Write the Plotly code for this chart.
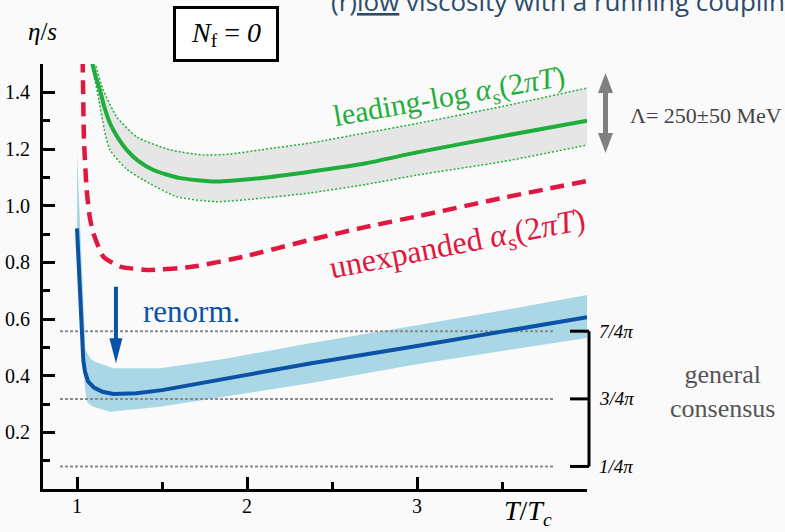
import plotly.graph_objects as go

# ---------------- data ----------------
# leading-log alpha_s(2 pi T): central curve and band edges
green_mid_x = [1.085, 1.09, 1.11, 1.135, 1.16, 1.194, 1.24, 1.292, 1.36, 1.449, 1.6, 1.82, 2.076, 2.37, 2.7, 3.0, 3.5, 4.0]
green_mid_y = [1.52, 1.503, 1.455, 1.408, 1.35, 1.291, 1.24, 1.197, 1.158, 1.126, 1.098, 1.085, 1.097, 1.12, 1.15, 1.188, 1.245, 1.30]
green_up_x = [1.104, 1.108, 1.155, 1.233, 1.351, 1.547, 1.743, 1.9, 2.08, 2.37, 2.7, 3.0, 3.5, 4.0]
green_up_y = [1.52, 1.50, 1.408, 1.314, 1.243, 1.197, 1.179, 1.182, 1.197, 1.221, 1.257, 1.29, 1.35, 1.415]
green_lo_x = [1.082, 1.087, 1.13, 1.16, 1.194, 1.29, 1.39, 1.586, 1.82, 2.08, 2.37, 2.7, 3.0, 3.5, 4.0]
green_lo_y = [1.52, 1.50, 1.37, 1.27, 1.197, 1.13, 1.091, 1.032, 1.014, 1.026, 1.045, 1.075, 1.108, 1.155, 1.214]

# unexpanded alpha_s(2 pi T)
red_x = [1.033, 1.035, 1.041, 1.057, 1.075, 1.096, 1.155, 1.253, 1.429, 1.684, 1.98, 2.37, 2.7, 3.0, 3.5, 4.0]
red_y = [1.52, 1.45, 1.232, 1.055, 0.96, 0.903, 0.82, 0.785, 0.773, 0.785, 0.82, 0.879, 0.925, 0.962, 1.027, 1.087]

# renormalized curve and its band
blue_x = [1.0, 1.037, 1.047, 1.065, 1.1, 1.15, 1.214, 1.35, 1.5, 1.88, 2.37, 3.0, 3.5, 4.0]
blue_y = [0.92, 0.455, 0.414, 0.38, 0.358, 0.343, 0.335, 0.338, 0.349, 0.39, 0.443, 0.505, 0.555, 0.606]
band_up_x = [1.0, 1.025, 1.05, 1.08, 1.106, 1.214, 1.49, 1.88, 2.37, 3.0, 3.5, 4.0]
band_up_y = [1.185, 0.84, 0.491, 0.46, 0.449, 0.426, 0.426, 0.461, 0.514, 0.578, 0.63, 0.685]
band_lo_x = [1.0, 1.02, 1.04, 1.05, 1.06, 1.096, 1.194, 1.49, 1.88, 2.37, 3.0, 3.5, 4.0]
band_lo_y = [0.92, 0.67, 0.40, 0.34, 0.305, 0.29, 0.273, 0.29, 0.326, 0.373, 0.44, 0.487, 0.533]

# "general consensus" levels
consensus_y = [0.0796, 0.318, 0.557]
consensus_labels = ["1/4π", "3/4π", "7/4π"]
consensus_x = [0.9, 3.8]

x_tick_vals = [1, 2, 3]
x_tick_text = ["1", "2", "3"]
x_minor_vals = [1.5, 2.5, 3.5, 4.0]
y_tick_vals = [0.2, 0.4, 0.6, 0.8, 1.0, 1.2, 1.4]
y_tick_text = ["0.2", "0.4", "0.6", "0.8", "1.0", "1.2", "1.4"]

renorm_arrow_x = 1.229
renorm_arrow_y = [0.719, 0.444]       # tail, tip
lambda_arrow_y = [1.468, 1.186]       # top tip, bottom tip

# ---------------- styling ----------------
W, H = 785, 532
ML, MR, MT, MB = 43, 198, 64, 43
SERIF = "Liberation Serif, Times New Roman, serif"
GREEN = "#1fae3c"
RED = "#e0173f"
BLUE = "#0a52a6"
LIGHTBLUE = "#aad7e6"
BG = "#fafafa"


def px(xp):
    return (xp - ML) / (W - ML - MR)


def py(yp):
    return (H - MB - yp) / (H - MT - MB)


fig = go.Figure()

# bands
fig.add_trace(go.Scatter(x=green_up_x + green_lo_x[::-1], y=green_up_y + green_lo_y[::-1],
                         fill="toself", fillcolor="#e6e6e6", line=dict(width=0),
                         mode="lines", hoverinfo="skip"))
fig.add_trace(go.Scatter(x=band_up_x + band_lo_x[::-1], y=band_up_y + band_lo_y[::-1],
                         fill="toself", fillcolor=LIGHTBLUE, line=dict(width=0),
                         mode="lines", hoverinfo="skip"))

# consensus dotted lines
for v in consensus_y:
    fig.add_trace(go.Scatter(x=consensus_x, y=[v, v], mode="lines",
                             line=dict(color="#8a8a8a", width=2, dash="3px,2px")))

# green band edges and central
fig.add_trace(go.Scatter(x=green_up_x, y=green_up_y, mode="lines",
                         line=dict(color=GREEN, width=1.5, dash="2px,2px", shape="spline", smoothing=0.6)))
fig.add_trace(go.Scatter(x=green_lo_x, y=green_lo_y, mode="lines",
                         line=dict(color=GREEN, width=1.5, dash="2px,2px", shape="spline", smoothing=0.6)))
fig.add_trace(go.Scatter(x=green_mid_x, y=green_mid_y, mode="lines",
                         line=dict(color=GREEN, width=4, shape="spline", smoothing=0.6)))
# red dashed
fig.add_trace(go.Scatter(x=red_x, y=red_y, mode="lines",
                         line=dict(color=RED, width=4.5, dash="14px,8px", shape="spline", smoothing=0.5)))
# blue
fig.add_trace(go.Scatter(x=blue_x, y=blue_y, mode="lines",
                         line=dict(color=BLUE, width=4)))

shapes = []
# bracket at the right
bx = px(589)
shapes.append(dict(type="line", xref="paper", yref="y", x0=bx, x1=bx,
                   y0=min(consensus_y), y1=max(consensus_y), line=dict(color="black", width=3)))
for v in consensus_y:
    shapes.append(dict(type="line", xref="paper", yref="y", x0=px(570), x1=bx,
                       y0=v, y1=v, line=dict(color="black", width=3)))

# arrow heads (pixel-sized triangles anchored at tips)
shapes.append(dict(type="path", xref="x", yref="y", xsizemode="pixel", ysizemode="pixel",
                   xanchor=renorm_arrow_x, yanchor=renorm_arrow_y[1],
                   path="M0,0 L-6.5,25 L6.5,25 Z", fillcolor=BLUE, line=dict(width=0)))
lx = px(605.5)
shapes.append(dict(type="path", xref="paper", yref="y", xsizemode="pixel", ysizemode="pixel",
                   xanchor=lx, yanchor=lambda_arrow_y[0],
                   path="M0,0 L-7.5,-20 L7.5,-20 Z", fillcolor="#808080", line=dict(width=0)))
shapes.append(dict(type="path", xref="paper", yref="y", xsizemode="pixel", ysizemode="pixel",
                   xanchor=lx, yanchor=lambda_arrow_y[1],
                   path="M0,0 L-7.5,20 L7.5,20 Z", fillcolor="#808080", line=dict(width=0)))

ann = []
# arrow shafts
ann.append(dict(x=renorm_arrow_x, y=renorm_arrow_y[1], ax=renorm_arrow_x, ay=renorm_arrow_y[0],
                xref="x", yref="y", axref="x", ayref="y", text="", showarrow=True,
                arrowhead=0, arrowwidth=4, arrowcolor=BLUE, standoff=20))
ann.append(dict(x=lx, y=lambda_arrow_y[1], ax=lx, ay=lambda_arrow_y[0],
                xref="x domain", yref="y", axref="x domain", ayref="y", text="", showarrow=True,
                arrowhead=0, arrowwidth=5, arrowcolor="#808080", standoff=16, startstandoff=16))


def label(xp, yp, text, size, color="black", family=SERIF, xanchor="center", **kw):
    d = dict(xref="paper", yref="paper", x=px(xp), y=py(yp), text=text, showarrow=False,
             xanchor=xanchor, yanchor="middle", font=dict(family=family, size=size, color=color))
    d.update(kw)
    ann.append(d)


label(42, 31, "<i>η</i>/<i>s</i>", 25)
label(226, 34, "<i>N</i><sub>f</sub> = <i>0</i>", 28, width=100, height=50, borderpad=0,
      bordercolor="black", borderwidth=3, bgcolor="white")
label(528, 512, "<i>T</i>/<i>T<sub>c</sub></i>", 28)
label(449, 98, "leading-log <i>α</i><sub>s</sub>(2<i>πT</i>)", 30, GREEN, textangle=-10)
label(457, 245, "unexpanded <i>α</i><sub>s</sub>(2<i>πT</i>)", 32, RED, textangle=-11)
label(191, 311, "renorm.", 31, BLUE)
label(628, 116, "Λ= 250±50 MeV", 22, "#444444", xanchor="left")
label(722, 391, "general<br>consensus", 26, "#555555")
label(329, 1, '(r)<span style="text-decoration:underline">low</span> viscosity with a running coupling',
      26, "#2c4b6b", family="Open Sans, sans-serif", xanchor="left")

for v, lab in zip(consensus_y, consensus_labels):
    ann.append(dict(xref="paper", yref="y", x=px(597), y=v, xanchor="left", yanchor="middle",
                    text="<i>" + lab + "</i>", showarrow=False,
                    font=dict(family=SERIF, size=19, color="black")))

fig.update_layout(
    width=W, height=H, margin=dict(l=ML, r=MR, t=MT, b=MB, autoexpand=False),
    paper_bgcolor=BG, plot_bgcolor=BG, showlegend=False,
    shapes=shapes, annotations=ann,
    xaxis=dict(range=[0.8, 4.0], showgrid=False, zeroline=False, showline=True, automargin=False,
               linecolor="black", linewidth=3, ticks="inside", ticklen=12, tickwidth=3,
               tickcolor="black", tickvals=x_tick_vals, ticktext=x_tick_text,
               ticklabelstandoff=-3,
               tickfont=dict(family=SERIF, size=20, color="black"),
               minor=dict(tickvals=x_minor_vals, ticks="inside", ticklen=7, tickwidth=3,
                          tickcolor="black")),
    yaxis=dict(range=[0, 1.5], showgrid=False, zeroline=False, showline=True, automargin=False,
               linecolor="black", linewidth=3, ticks="inside", ticklen=12, tickwidth=3,
               tickcolor="black", tickvals=y_tick_vals, ticktext=y_tick_text,
               ticklabelstandoff=6,
               tickfont=dict(family=SERIF, size=20, color="black"),
               minor=dict(tick0=0.1, dtick=0.2, ticks="inside", ticklen=7, tickwidth=3,
                          tickcolor="black")),
)

fig.write_html("out.html")
